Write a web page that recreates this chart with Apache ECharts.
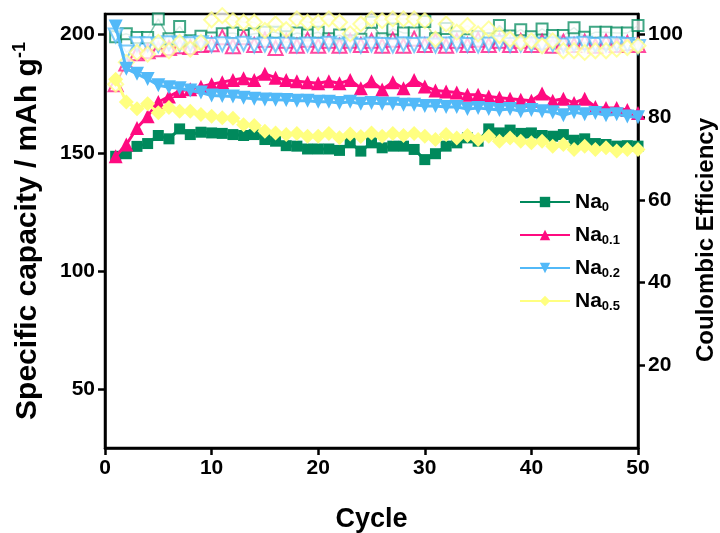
<!DOCTYPE html>
<html><head><meta charset="utf-8">
<script src="https://cdn.jsdelivr.net/npm/echarts@6/dist/echarts.min.js"></script>
<style>html,body{margin:0;padding:0;background:#fff}#c{width:720px;height:533px}</style>
</head><body><div id="c"></div>
<script>
const cycles = [1,2,3,4,5,6,7,8,9,10,11,12,13,14,15,16,17,18,19,20,21,22,23,24,25,26,27,28,29,30,31,32,33,34,35,36,37,38,39,40,41,42,43,44,45,46,47,48,49,50];
const seriesNames = ['Na0','Na0.1','Na0.2','Na0.5'];
const na0Cap = [148.5,149.6,152.7,153.9,157.3,155.9,160.1,157.7,158.7,158.4,158.2,157.7,157.3,157.7,155.6,154.9,153.0,152.8,151.6,151.6,151.6,151.0,154.2,150.7,154.2,152.1,152.8,152.8,151.4,147.1,149.6,152.8,154.2,156.3,154.9,160.1,158.4,159.6,158.2,158.4,157.3,157.0,157.7,155.3,155.9,153.9,153.5,152.8,153.0,152.8];
const na01Cap = [148.5,153.5,160.5,165.5,171.5,173.8,176.2,176.9,178.0,179.0,179.9,180.8,181.6,180.8,183.4,181.8,180.8,180.3,179.9,179.4,180.3,179.4,180.8,177.3,180.3,176.8,179.9,177.3,180.8,178.1,176.4,175.9,175.5,174.6,174.6,173.8,173.3,172.9,172.4,172.0,175.1,172.0,172.9,171.1,172.9,169.4,168.9,168.9,168.1,166.8];
const na02Cap = [203.5,185.6,183.4,181.2,178.6,177.7,177.3,176.4,175.5,174.2,174.0,173.8,173.3,172.9,172.6,172.4,172.3,172.0,172.0,171.6,171.6,171.1,171.6,170.7,171.1,170.7,170.7,170.3,170.3,169.8,169.8,169.4,169.4,168.5,168.9,168.5,168.1,168.5,167.6,168.1,167.6,167.2,165.9,167.2,166.3,166.8,165.9,166.3,165.4,165.0];
const na05Cap = [181.1,171.5,168.6,170.7,166.9,169.2,167.6,167.6,166.2,165.5,164.8,164.6,161.9,161.5,159.1,158.4,157.7,158.2,157.0,157.0,158.2,156.4,157.9,156.9,158.4,157.0,158.2,157.3,158.2,157.0,155.6,157.7,156.3,157.3,155.6,157.0,154.9,156.3,154.9,154.2,154.9,152.8,153.5,151.4,152.8,151.4,152.1,150.7,151.4,151.4];
const na0CE = [99.5,100.2,99.3,99.3,103.8,99.0,102.0,98.5,99.6,99.2,100.2,100.4,99.8,100.2,100.6,100.6,99.5,100.4,99.9,100.6,99.0,99.9,98.5,98.9,103.0,99.0,101.4,100.4,100.4,103.2,99.0,101.5,99.5,98.8,99.5,99.0,102.2,99.7,101.2,99.5,101.4,99.8,99.8,101.7,99.4,100.6,100.6,100.4,100.4,102.2];
const na01CE = [88.0,93.0,95.5,96.0,96.5,96.8,97.2,97.0,97.5,97.7,99.4,97.2,99.4,97.5,98.8,96.8,98.5,97.3,98.8,97.3,98.5,97.3,98.5,97.5,98.5,97.3,98.8,97.3,99.0,97.5,98.5,97.3,98.5,97.5,98.8,97.5,98.5,97.5,98.5,97.5,98.3,97.3,98.3,97.5,98.3,97.3,98.3,97.5,98.0,97.5];
const na02CE = [99.8,95.7,97.7,97.7,97.5,97.9,97.7,97.7,97.9,97.5,97.7,97.5,97.8,97.4,97.6,97.5,97.6,97.4,97.6,97.5,97.8,97.4,97.6,97.3,97.6,97.5,97.4,97.7,97.5,97.6,97.4,97.6,97.7,97.5,97.4,97.6,98.0,97.5,97.6,97.6,97.5,97.7,97.4,97.6,97.8,97.5,97.6,97.7,97.5,97.0];
const na05CE = [88.0,93.3,95.7,95.3,98.1,96.1,98.1,96.5,98.1,103.6,104.6,103.4,103.0,103.0,101.0,102.6,101.2,103.8,103.0,103.0,103.8,103.0,100.2,102.6,103.8,103.4,103.8,103.8,103.8,103.4,98.9,102.6,100.6,102.2,100.2,101.4,99.8,98.9,98.1,98.5,97.3,98.5,96.1,96.1,95.7,96.1,96.1,96.5,96.9,97.3];
const xTicks = [0,10,20,30,40,50];
const capTickValues = [50,100,150,200];
const capLabelValues = [50,100,150,200];
const ceTickValues = [20,40,60,80,100];
const ceLabelValues = [20,40,60,80,100];

const colors = ['#00895c','#ff0a80','#52b9f8','#ffff80'];
const symbols = ['rect','triangle','triangle','diamond'];
const rotates = [0,0,180,0];
const sizes = [11,14,14,15];
const capData = [na0Cap,na01Cap,na02Cap,na05Cap];
const ceData = [na0CE,na01CE,na02CE,na05CE];
const FONT = 'Liberation Sans, Arial, sans-serif';

function pairs(arr){ return cycles.map((c,i)=>[c,arr[i]]); }

const series = [];
for (let k=0;k<4;k++){
  series.push({
    name: seriesNames[k]+' CE', type:'line', yAxisIndex:1, data: pairs(ceData[k]),
    symbol: 'empty'+symbols[k].charAt(0).toUpperCase()+symbols[k].slice(1),
    symbolRotate: rotates[k], symbolSize: sizes[k], showSymbol:true,
    lineStyle:{color:colors[k], width:1.5, opacity:0.5},
    itemStyle:{color:colors[k], borderColor:colors[k], borderWidth:1.5, opacity:0.75},
    z: 2, animation:false
  });
}
for (let k=0;k<4;k++){
  series.push({
    name: seriesNames[k], type:'line', yAxisIndex:0, data: pairs(capData[k]),
    symbol: symbols[k], symbolRotate: rotates[k], symbolSize: sizes[k],
    lineStyle:{color:colors[k], width:3},
    itemStyle:{color:colors[k], borderWidth:0},
    z: 3+k, animation:false
  });
}

const axisLineStyle = {color:'#000', width:2.5};
const labelStyle = {color:'#000', fontSize:21, fontWeight:'bold', fontFamily:FONT};

const option = {
  animation:false,
  backgroundColor:'#fff',
  grid:{left:105, right:82, top:14, bottom:85, show:true, borderColor:'#000', borderWidth:2.5, outerBoundsMode:'none'},
  legend:{
    data: seriesNames, orient:'vertical', left:514, top:186, itemGap:10, itemWidth:50, itemHeight:13,
    formatter: n => '{a|Na}{b|'+n.slice(2)+'}',
    textStyle:{color:'#000', fontFamily:FONT, rich:{
      a:{fontSize:21, fontWeight:'bold', fontFamily:FONT, color:'#000', lineHeight:24},
      b:{fontSize:13, fontWeight:'bold', fontFamily:FONT, color:'#000', verticalAlign:'bottom', lineHeight:24, padding:[10,0,0,0]}
    }}
  },
  xAxis:[{
    type:'value', min:0, max:50, interval:10,
    axisLine:{show:true, onZero:false, lineStyle:axisLineStyle},
    axisTick:{show:true, inside:false, length:7, lineStyle:axisLineStyle, customValues:xTicks},
    axisLabel:Object.assign({margin:10, customValues:xTicks}, labelStyle),
    splitLine:{show:false},
    name:'Cycle', nameLocation:'middle', nameGap:58,
    nameTextStyle:{color:'#000', fontSize:27, fontWeight:'bold', fontFamily:FONT}
  }],
  yAxis:[{
    type:'value', min:25, max:208.75, interval:50, position:'left',
    axisLine:{show:true, onZero:false, lineStyle:axisLineStyle},
    axisTick:{show:true, inside:false, length:7, lineStyle:axisLineStyle, customValues:capTickValues},
    axisLabel:Object.assign({margin:10, customValues:capLabelValues}, labelStyle),
    splitLine:{show:false},
    name:'{n|Specific capacity / mAh g}{s|-1}', nameLocation:'middle', nameRotate:90, nameGap:60,
    nameTextStyle:{color:'#000', fontFamily:FONT, rich:{
      n:{fontSize:30, fontWeight:'bold', fontFamily:FONT, color:'#000', lineHeight:34},
      s:{fontSize:18, fontWeight:'bold', fontFamily:FONT, color:'#000', verticalAlign:'top', lineHeight:34, padding:[0,0,13,0]}
    }}
  },{
    type:'value', min:0, max:105, interval:20, position:'right',
    axisLine:{show:true, onZero:false, lineStyle:axisLineStyle},
    axisTick:{show:true, inside:false, length:7, lineStyle:axisLineStyle, customValues:ceTickValues},
    axisLabel:Object.assign({margin:10, customValues:ceLabelValues}, labelStyle),
    splitLine:{show:false},
    name:'Coulombic Efficiency', nameLocation:'middle', nameRotate:90, nameGap:52,
    nameTextStyle:{color:'#000', fontSize:24, fontWeight:'bold', fontFamily:FONT, padding:[0,18,0,0]}
  }],
  series: series
};
const chart = echarts.init(document.getElementById('c'), null, {renderer:'canvas'});
chart.setOption(option);
</script></body></html>
